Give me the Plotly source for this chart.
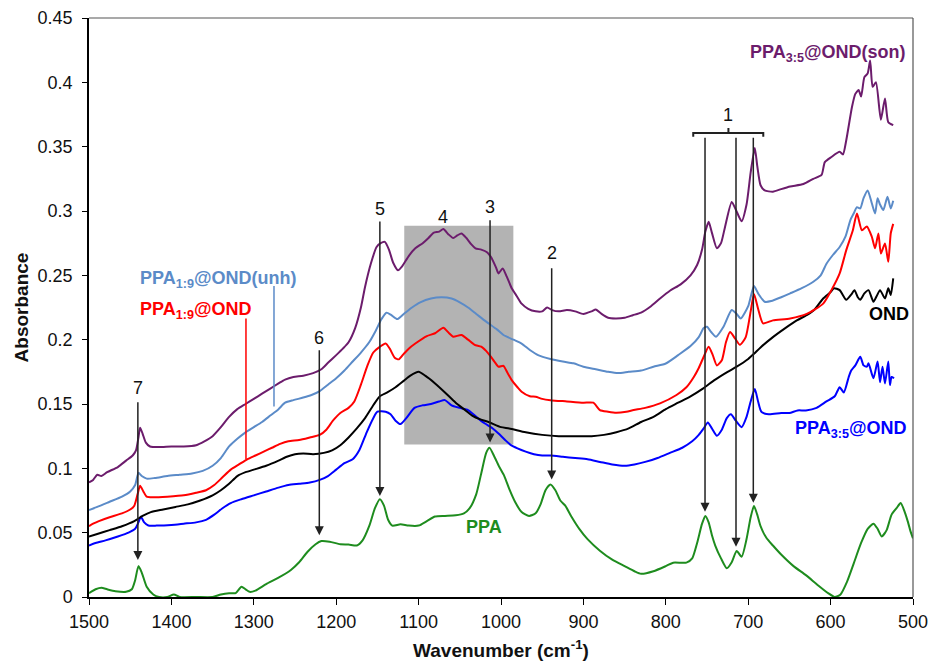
import plotly.graph_objects as go

# ---- spectra: wavenumber (cm-1) and absorbance ----
ppa_wn = [1500, 1492, 1485, 1478, 1468, 1455, 1448, 1444, 1440, 1436, 1430, 1422, 1415, 1405, 1397,
          1390, 1370, 1350, 1340, 1330, 1322, 1315, 1310, 1305, 1298, 1285, 1270, 1255, 1245, 1235,
          1225, 1218, 1208, 1195, 1185, 1175, 1168, 1160, 1153, 1147, 1142, 1137, 1132, 1122, 1112,
          1100, 1090, 1080, 1068, 1055, 1045, 1038, 1030, 1024, 1018, 1014, 1008, 1002, 996, 990,
          983, 975, 966, 958, 952, 946, 940, 934, 928, 922, 915, 905, 895, 880, 865, 850, 838, 830,
          815, 800, 791, 775, 768, 762, 756, 752, 748, 744, 740, 733, 726, 720, 714, 708, 702, 697,
          693, 689, 685, 678, 670, 660, 645, 630, 615, 603, 595, 588, 580, 572, 563, 555, 548, 543,
          538, 532, 526, 520, 515, 510, 506, 503, 500]
ppa_abs = [0.003, 0.006, 0.0072, 0.006, 0.0045, 0.004, 0.006, 0.013, 0.024, 0.019, 0.008, 0.002, 0.0, 0.0, 0.002,
           0.0, 0.0, 0.0, 0.002, 0.003, 0.003, 0.008, 0.006, 0.004, 0.005, 0.010, 0.015, 0.021, 0.027, 0.035,
           0.041, 0.0435, 0.043, 0.041, 0.0408, 0.040, 0.044, 0.055, 0.069, 0.076, 0.071, 0.060, 0.0555, 0.0565, 0.0555,
           0.0555, 0.059, 0.0625, 0.063, 0.0635, 0.065, 0.069, 0.080, 0.096, 0.112, 0.116, 0.109, 0.101, 0.094, 0.084,
           0.074, 0.066, 0.063, 0.065, 0.072, 0.083, 0.0875, 0.083, 0.075, 0.071, 0.063, 0.053, 0.045, 0.036, 0.029, 0.024, 0.020, 0.018,
           0.020, 0.024, 0.0267, 0.0267, 0.030, 0.042, 0.057, 0.063, 0.058, 0.048, 0.040, 0.030, 0.0223, 0.027, 0.0357, 0.0313, 0.045, 0.062,
           0.0707, 0.064, 0.055, 0.046, 0.040, 0.033, 0.024, 0.017, 0.009, 0.003, 0.0, 0.002, 0.012, 0.026, 0.042, 0.053, 0.057, 0.053,
           0.047, 0.052, 0.064, 0.069, 0.073, 0.066, 0.058, 0.051, 0.0456]

ond_wn = [1500, 1490, 1475, 1460, 1445, 1435, 1425, 1410, 1395, 1380, 1365, 1350, 1340, 1330, 1320,
          1310, 1300, 1285, 1270, 1260, 1250, 1240, 1228, 1215, 1205, 1195, 1185, 1175, 1165, 1155,
          1147, 1138, 1128, 1118, 1110, 1100, 1092, 1080, 1068, 1055, 1045, 1035, 1025, 1015, 1000,
          990, 970, 950, 930, 910, 890, 875, 860, 845, 830, 815, 800, 785, 770, 755, 740, 725, 714,
          700, 693, 685, 670, 655, 641, 629, 620, 609, 600, 596, 589, 581, 575, 571, 567, 564, 559,
          554, 548, 544, 540, 534, 530, 527, 524]
ond_abs = [0.047, 0.049, 0.052, 0.055, 0.059, 0.063, 0.066, 0.068, 0.070, 0.072, 0.075, 0.079, 0.083, 0.088, 0.094,
           0.097, 0.099, 0.102, 0.106, 0.109, 0.111, 0.1115, 0.111, 0.112, 0.114, 0.118, 0.124, 0.131, 0.139, 0.149,
           0.156, 0.159, 0.163, 0.168, 0.172, 0.175, 0.172, 0.166, 0.159, 0.151, 0.146, 0.141, 0.138, 0.136, 0.132,
           0.131, 0.128, 0.126, 0.125, 0.125, 0.125, 0.126, 0.128, 0.131, 0.136, 0.140, 0.146, 0.151, 0.156, 0.162, 0.169, 0.175, 0.179,
           0.185, 0.189, 0.194, 0.202, 0.209, 0.215, 0.219, 0.223, 0.232, 0.237, 0.240, 0.2385, 0.231, 0.235, 0.2385, 0.233, 0.231, 0.236,
           0.2385, 0.2295, 0.234, 0.2385, 0.232, 0.240, 0.2347, 0.2476]

unh_wn = [1500, 1490, 1475, 1460, 1450, 1444, 1440, 1436, 1430, 1420, 1405, 1390, 1375, 1362, 1350,
          1340, 1330, 1320, 1310, 1300, 1290, 1280, 1270, 1262, 1252, 1240, 1230, 1220, 1210, 1200,
          1190, 1180, 1170, 1160, 1152, 1145, 1139, 1133, 1126, 1118, 1108, 1098, 1085, 1072, 1060,
          1050, 1040, 1030, 1018, 1005, 997, 985, 975, 965, 955, 940, 925, 912, 900, 885, 870, 858,
          845, 830, 815, 800, 785, 770, 760, 754, 750, 745, 739, 730, 720, 714, 709, 700, 693, 688,
          680, 672, 660, 649, 635, 621, 612, 605, 597, 589, 582, 576, 572, 568, 564, 560, 555, 550,
          546, 543, 540, 536, 531, 527, 524]
unh_abs = [0.0676, 0.070, 0.074, 0.078, 0.082, 0.087, 0.0965, 0.094, 0.092, 0.0925, 0.094, 0.095, 0.096, 0.098, 0.102,
           0.108, 0.117, 0.123, 0.128, 0.132, 0.136, 0.141, 0.146, 0.151, 0.153, 0.155, 0.157, 0.160, 0.165, 0.170,
           0.176, 0.183, 0.190, 0.198, 0.207, 0.216, 0.221, 0.219, 0.216, 0.220, 0.225, 0.229, 0.232, 0.233, 0.232,
           0.229, 0.225, 0.220, 0.214, 0.208, 0.2036, 0.200, 0.197, 0.192, 0.188, 0.185, 0.183, 0.1816, 0.179, 0.177, 0.175, 0.174,
           0.175, 0.176, 0.179, 0.1815, 0.188, 0.195, 0.202, 0.209, 0.210, 0.206, 0.2023, 0.210, 0.223, 0.220, 0.2165, 0.226, 0.2417, 0.236,
           0.2295, 0.230, 0.233, 0.236, 0.240, 0.245, 0.250, 0.259, 0.266, 0.272, 0.280, 0.293, 0.298, 0.303, 0.302, 0.310, 0.316, 0.306,
           0.298, 0.310, 0.305, 0.3007, 0.311, 0.302, 0.308]

red_wn = [1500, 1495, 1488, 1475, 1460, 1450, 1445, 1441, 1438, 1434, 1430, 1422, 1405, 1385, 1370,
          1358, 1348, 1338, 1328, 1318, 1308, 1298, 1288, 1278, 1268, 1258, 1245, 1232, 1220, 1212,
          1204, 1195, 1185, 1178, 1170, 1162, 1155, 1148, 1140, 1135, 1129, 1124, 1118, 1112, 1104,
          1090, 1080, 1070, 1063, 1058, 1048, 1040, 1032, 1024, 1015, 1008, 1003, 997, 992, 987, 980,
          975, 965, 958, 950, 940, 920, 900, 888, 880, 870, 860, 848, 839, 825, 807, 787, 775, 766,
          760, 754, 748, 743, 738, 732, 727, 722, 716, 710, 703, 697, 693, 688, 682, 670, 649, 629,
          609, 599, 589, 581, 573, 568, 562, 556, 550, 546, 542, 539, 534, 530, 527, 524]
red_abs = [0.055, 0.057, 0.059, 0.062, 0.065, 0.068, 0.071, 0.080, 0.0865, 0.082, 0.078, 0.0775, 0.078, 0.079, 0.081,
           0.083, 0.087, 0.093, 0.099, 0.103, 0.107, 0.110, 0.113, 0.116, 0.119, 0.121, 0.122, 0.124, 0.126, 0.130,
           0.137, 0.143, 0.147, 0.152, 0.165, 0.180, 0.190, 0.194, 0.197, 0.193, 0.186, 0.1847, 0.189, 0.193, 0.197,
           0.2028, 0.205, 0.2093, 0.205, 0.2023, 0.2036, 0.200, 0.196, 0.1945, 0.189, 0.183, 0.179, 0.1797, 0.174, 0.1686, 0.163,
           0.1595, 0.156, 0.1556, 0.154, 0.153, 0.152, 0.151, 0.151, 0.1453, 0.144, 0.1432, 0.144, 0.1453, 0.147, 0.1505, 0.157, 0.163, 0.171,
           0.178, 0.1867, 0.1945, 0.188, 0.180, 0.184, 0.198, 0.206, 0.201, 0.196, 0.202, 0.222, 0.2354, 0.224, 0.2127, 0.215, 0.2165, 0.220,
           0.228, 0.2385, 0.2515, 0.2696, 0.285, 0.298, 0.285, 0.288, 0.280, 0.271, 0.2826, 0.267, 0.2748, 0.2605, 0.2826, 0.290]

son35_wn = [1500, 1492, 1480, 1465, 1452, 1444, 1440, 1437, 1433, 1428, 1418, 1400, 1385, 1370, 1358,
            1348, 1338, 1328, 1315, 1300, 1285, 1270, 1258, 1245, 1232, 1220, 1210, 1200, 1190, 1180,
            1172, 1163, 1155, 1150, 1140, 1134, 1128, 1122, 1115, 1105, 1095, 1085, 1075, 1068, 1060,
            1050, 1040, 1030, 1020, 1010, 1003, 995, 988, 980, 970, 960, 950, 940, 925, 910, 895, 880,
            865, 850, 838, 825, 810, 795, 780, 768, 760, 754, 749, 744, 738, 732, 726, 721, 715, 708,
            702, 697, 692, 688, 684, 675, 660, 650, 640, 630, 617, 605, 595, 589, 584, 578, 575, 570,
            564, 560, 556, 554, 548, 543, 540, 537, 534, 530, 528, 526, 523]
son35_abs = [0.040, 0.042, 0.044, 0.047, 0.050, 0.053, 0.058, 0.0624, 0.058, 0.0556, 0.0555, 0.056, 0.057, 0.058, 0.060,
             0.064, 0.069, 0.073, 0.076, 0.079, 0.082, 0.085, 0.087, 0.088, 0.089, 0.091, 0.094, 0.099, 0.104, 0.107,
             0.114, 0.128, 0.139, 0.144, 0.144, 0.142, 0.137, 0.1344, 0.139, 0.147, 0.149, 0.150, 0.152, 0.153, 0.149,
             0.147, 0.1453, 0.140, 0.135, 0.131, 0.127, 0.122, 0.118, 0.1155, 0.113, 0.111, 0.110, 0.110, 0.109, 0.108, 0.107, 0.105,
             0.103, 0.102, 0.103, 0.105, 0.108, 0.112, 0.116, 0.121, 0.126, 0.131, 0.1357, 0.131, 0.1253, 0.130, 0.139, 0.142, 0.137, 0.132,
             0.140, 0.152, 0.1616, 0.152, 0.144, 0.142, 0.143, 0.143, 0.145, 0.145, 0.147, 0.152, 0.156, 0.163, 0.159, 0.171, 0.176, 0.180,
             0.1867, 0.180, 0.179, 0.1816, 0.170, 0.183, 0.167, 0.179, 0.166, 0.183, 0.1647, 0.171, 0.170]

son_wn = [1500, 1495, 1490, 1485, 1478, 1465, 1455, 1447, 1443, 1440, 1438, 1435, 1431, 1426, 1415,
          1400, 1385, 1370, 1360, 1350, 1340, 1330, 1320, 1310, 1300, 1290, 1280, 1270, 1262, 1252,
          1240, 1228, 1218, 1210, 1200, 1192, 1185, 1177, 1170, 1165, 1158, 1151, 1146, 1141, 1136,
          1131, 1125, 1120, 1112, 1104, 1095, 1088, 1082, 1075, 1070, 1064, 1058, 1053, 1048, 1042,
          1036, 1031, 1024, 1017, 1012, 1006, 1003, 998, 993, 987, 981, 975, 967, 958, 950, 944, 938,
          930, 920, 910, 900, 890, 885, 878, 870, 861, 850, 840, 830, 818, 807, 795, 782, 770, 762,
          756, 752, 748, 744, 738, 733, 728, 720, 715, 708, 702, 697, 692, 689, 685, 680, 670, 660,
          649, 633, 621, 611, 607, 599, 589, 585, 581, 574, 570, 566, 563, 559, 555, 552, 549, 545,
          539, 534, 530, 524]
son_abs = [0.089, 0.091, 0.095, 0.094, 0.097, 0.101, 0.106, 0.110, 0.114, 0.124, 0.1316, 0.127, 0.120, 0.117, 0.1165,
           0.117, 0.117, 0.118, 0.121, 0.125, 0.132, 0.140, 0.146, 0.150, 0.154, 0.158, 0.162, 0.166, 0.169, 0.171,
           0.172, 0.174, 0.177, 0.182, 0.188, 0.193, 0.198, 0.209, 0.225, 0.241, 0.259, 0.272, 0.275, 0.276, 0.270,
           0.260, 0.254, 0.257, 0.265, 0.271, 0.275, 0.279, 0.283, 0.284, 0.286, 0.282, 0.279, 0.281, 0.2826, 0.279,
           0.274, 0.271, 0.270, 0.268, 0.264, 0.256, 0.2515, 0.2554, 0.249, 0.240, 0.234, 0.228, 0.224, 0.222, 0.222, 0.225, 0.223,
           0.222, 0.223, 0.222, 0.220, 0.222, 0.2235, 0.220, 0.217, 0.2165, 0.217, 0.219, 0.221, 0.226, 0.232, 0.238, 0.243, 0.250, 0.258,
           0.270, 0.284, 0.2916, 0.283, 0.271, 0.275, 0.288, 0.307, 0.301, 0.292, 0.305, 0.330, 0.349, 0.335, 0.320, 0.316, 0.315, 0.317,
           0.319, 0.321, 0.325, 0.328, 0.338, 0.342, 0.346, 0.344, 0.355, 0.381, 0.391, 0.394, 0.389, 0.404, 0.407, 0.417, 0.3965, 0.400,
           0.371, 0.3875, 0.369, 0.3667]

# ---- band assignments: label, band position, arrow tail, arrow tip, label height ----
band_labels = ["7", "6", "5", "3", "2"]
band_wn = [1440.7, 1220.5, 1147.0, 1013.3, 938.5]
band_tail = [0.1526, 0.193, 0.293, 0.294, 0.2567]
band_tip = [0.0288, 0.048, 0.0785, 0.120, 0.0914]
band_text_y = [0.1624, 0.201, 0.3015, 0.3033, 0.267]

group1_wn = [752.4, 714.8, 693.8]
group1_tip = [0.0663, 0.039, 0.0733]

region4 = dict(x0=1117.4, x1=985.0, y0=0.1186, y1=0.2885)

x_ticks = [1500, 1400, 1300, 1200, 1100, 1000, 900, 800, 700, 600, 500]
y_ticks = [0, 0.05, 0.1, 0.15, 0.2, 0.25, 0.3, 0.35, 0.4, 0.45]

FONT = "Liberation Sans, Arial, sans-serif"
C_SON = "#6c1c6c"
C_UNH = "#5b8bc8"
C_RED = "#ff0000"
C_OND = "#000000"
C_BLUE = "#0000ff"
C_PPA = "#1e8c1e"

fig = go.Figure()

series = [
    (ppa_wn, ppa_abs, C_PPA, "PPA"),
    (son35_wn, son35_abs, C_BLUE, "PPA3:5@OND"),
    (ond_wn, ond_abs, C_OND, "OND"),
    (red_wn, red_abs, C_RED, "PPA1:9@OND"),
    (unh_wn, unh_abs, C_UNH, "PPA1:9@OND(unh)"),
    (son_wn, son_abs, C_SON, "PPA3:5@OND(son)"),
]
for wn, ab, col, name in series:
    fig.add_trace(go.Scatter(x=wn, y=ab, mode="lines", name=name,
                             line=dict(color=col, width=2, shape="spline", smoothing=0.6),
                             hoverinfo="skip"))

shapes = []
# shaded band region 4
shapes.append(dict(type="rect", xref="x", yref="y", layer="below", line=dict(width=0),
                   fillcolor="#b3b3b3", **region4))
# leader lines for the two left labels
shapes.append(dict(type="line", xref="x", yref="y", x0=1275.5, x1=1275.5, y0=0.2417, y1=0.148,
                   line=dict(color=C_UNH, width=1.5)))
shapes.append(dict(type="line", xref="x", yref="y", x0=1309.5, x1=1309.5, y0=0.2165, y1=0.107,
                   line=dict(color=C_RED, width=1.5)))
# bracket for group 1
bx0, bx1, bxm = 766.7, 681.7, 724.0
shapes.append(dict(type="path", xref="x", yref="y",
                   path=f"M{bx0},0.3577 L{bx0},0.3607 L{bx1},0.3607 L{bx1},0.3577",
                   line=dict(color="#222222", width=2)))
shapes.append(dict(type="line", xref="x", yref="y", x0=bxm, x1=bxm, y0=0.3607, y1=0.3645,
                   line=dict(color="#222222", width=2)))
# frame top / right
shapes.append(dict(type="line", xref="paper", yref="paper", x0=0, x1=1, y0=1, y1=1,
                   line=dict(color="#555555", width=1.2)))
shapes.append(dict(type="line", xref="paper", yref="paper", x0=1, x1=1, y0=0, y1=1,
                   line=dict(color="#555555", width=1.2)))

annotations = []
arrow_style = dict(showarrow=True, arrowhead=2, arrowsize=1.2, arrowwidth=1.5,
                   arrowcolor="#222222", axref="x", ayref="y", xref="x", yref="y", text="")
for lab, wn, tail, tip, ty in zip(band_labels, band_wn, band_tail, band_tip, band_text_y):
    annotations.append(dict(x=wn, y=tip, ax=wn, ay=tail, **arrow_style))
    annotations.append(dict(x=wn, y=ty, text=lab, showarrow=False, xref="x", yref="y",
                            font=dict(family=FONT, size=18, color="#111111")))
for wn, tip in zip(group1_wn, group1_tip):
    annotations.append(dict(x=wn, y=tip, ax=wn, ay=0.358, **arrow_style))
annotations.append(dict(x=bxm, y=0.3745, text="1", showarrow=False, xref="x", yref="y",
                        font=dict(family=FONT, size=18, color="#111111")))
annotations.append(dict(x=1070, y=0.2955, text="4", showarrow=False, xref="x", yref="y",
                        font=dict(family=FONT, size=18, color="#111111")))

def series_label(x, y, text, color, xanchor):
    return dict(x=x, y=y, text=f"<b>{text}</b>", showarrow=False, xref="x", yref="y",
                xanchor=xanchor, yanchor="middle",
                font=dict(family=FONT, size=18, color=color))

annotations.append(series_label(1440.5, 0.247, "PPA<sub>1:9</sub>@OND(unh)", C_UNH, "left"))
annotations.append(series_label(1440.5, 0.223, "PPA<sub>1:9</sub>@OND", C_RED, "left"))
annotations.append(series_label(507.3, 0.4225, "PPA<sub>3:5</sub>@OND(son)", C_SON, "right"))
annotations.append(series_label(529.0, 0.220, "OND", C_OND, "center"))
annotations.append(series_label(505.7, 0.130, "PPA<sub>3:5</sub>@OND", C_BLUE, "right"))
annotations.append(series_label(1020.6, 0.0546, "PPA", C_PPA, "center"))

fig.update_layout(
    width=929, height=661,
    margin=dict(l=89, r=16, t=18, b=64, autoexpand=False),
    paper_bgcolor="white", plot_bgcolor="white",
    showlegend=False,
    shapes=shapes,
    annotations=annotations,
    font=dict(family=FONT, size=18, color="#111111"),
)
fig.update_xaxes(range=[1500, 500], tickvals=x_ticks, ticks="outside", ticklen=6,
                 tickcolor="black", showline=True, linecolor="black", linewidth=1.5,
                 showgrid=False, zeroline=False, automargin=False, ticklabelstandoff=2,
                 tickfont=dict(family=FONT, size=18, color="#111111"),
                 title=dict(text="<b>Wavenumber (cm<sup>-1</sup>)</b>",
                            font=dict(family=FONT, size=19, color="#111111"), standoff=16))
fig.update_yaxes(range=[0, 0.45], tickvals=y_ticks, ticks="outside", ticklen=5,
                 tickcolor="black", showline=True, linecolor="black", linewidth=1.5,
                 showgrid=False, zeroline=False, automargin=False, ticklabelstandoff=6,
                 tickfont=dict(family=FONT, size=18, color="#111111"),
                 title=dict(text="<b>Absorbance</b>",
                            font=dict(family=FONT, size=19, color="#111111"), standoff=4))

fig.write_html("out.html")
